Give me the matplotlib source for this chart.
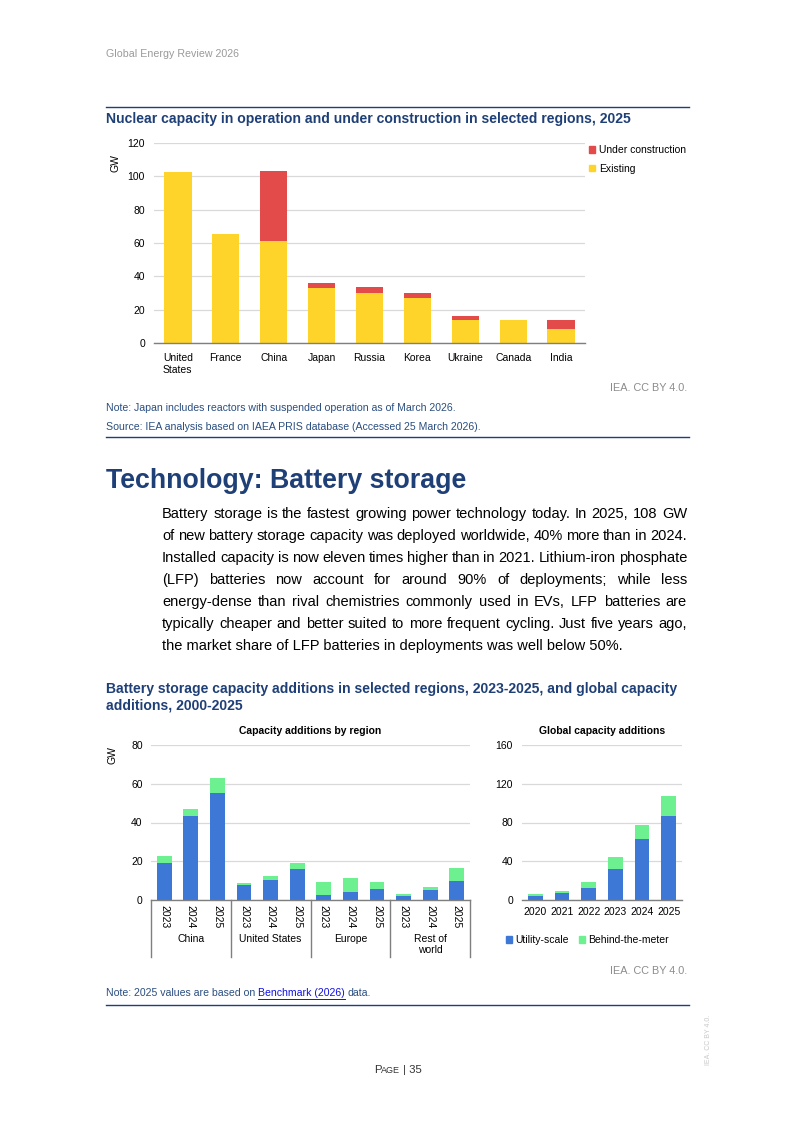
import matplotlib
matplotlib.use('Agg')
import matplotlib.pyplot as plt
from matplotlib.patches import Patch
from matplotlib.lines import Line2D
from matplotlib.transforms import blended_transform_factory
import numpy as np

plt.rcParams['font.family'] = ['Liberation Sans', 'DejaVu Sans']

# ---------------- data ----------------
nuc_regions = ['United\nStates', 'France', 'China', 'Japan', 'Russia', 'Korea', 'Ukraine', 'Canada', 'India']
nuc_existing = [102.5, 65.5, 61.0, 33.0, 30.0, 27.0, 14.0, 13.6, 8.4]
nuc_construction = [0.0, 0.0, 42.0, 3.0, 3.6, 3.0, 2.0, 0.0, 5.2]

bat_groups = ['China', 'United States', 'Europe', 'Rest of\nworld']
bat_years = ['2023', '2024', '2025']
bat_utility = [19.2, 43.2, 55.0, 7.8, 10.2, 15.9, 2.4, 4.0, 5.5, 2.0, 5.0, 9.7]
bat_btm = [3.4, 3.8, 8.0, 1.0, 2.1, 3.0, 6.8, 7.4, 3.7, 1.3, 1.6, 6.6]

glob_years = ['2020', '2021', '2022', '2023', '2024', '2025']
glob_utility = [3.8, 6.9, 12.0, 32.3, 63.3, 86.7]
glob_btm = [2.7, 2.7, 6.3, 12.1, 14.1, 20.9]

paragraph = [
    "Battery storage is the fastest growing power technology today. In 2025, 108 GW",
    "of new battery storage capacity was deployed worldwide, 40% more than in 2024.",
    "Installed capacity is now eleven times higher than in 2021. Lithium-iron phosphate",
    "(LFP) batteries now account for around 90% of deployments; while less",
    "energy-dense than rival chemistries commonly used in EVs, LFP batteries are",
    "typically cheaper and better suited to more frequent cycling. Just five years ago,",
    "the market share of LFP batteries in deployments was well below 50%.",
]

# ---------------- style ----------------
YELLOW = '#FFD42A'
RED = '#E34B4B'
BLUE = '#3D78D6'
GREEN = '#6CF090'
NAVY = '#1F3F77'
NOTE = '#2A4E80'
GRID = '#D9D9D9'
BASE = '#7F7F7F'
GREY_TXT = '#8C8C8C'
TFS = 7.5

W, H = 793, 1121
fig = plt.figure(figsize=(W / 100, H / 100), dpi=100)
renderer = fig.canvas.get_renderer()


def fx(px):
    return px / W


def fy(py):
    return 1 - py / H


def rect(l, t, r, b):
    return [fx(l), fy(b), (r - l) / W, (b - t) / H]


def hline(y, x0=106, x1=689, color=NAVY, lw=1.0):
    fig.add_artist(Line2D([fx(x0), fx(x1)], [fy(y), fy(y)], color=color, lw=lw,
                          transform=fig.transFigure))


def twidth(s, **kw):
    t = fig.text(0, 0, s, **kw)
    w = t.get_window_extent(renderer).width
    t.remove()
    return w


def style_axes(ax, ymax, step, pad):
    ax.set_ylim(0, ymax)
    ax.set_yticks(np.arange(0, ymax + 0.1, step))
    for s in ['top', 'right', 'left']:
        ax.spines[s].set_visible(False)
    ax.spines['bottom'].set_color(BASE)
    ax.spines['bottom'].set_linewidth(1.0)
    ax.grid(axis='y', color=GRID, lw=0.9)
    ax.set_axisbelow(True)
    ax.tick_params(axis='y', length=0, labelsize=TFS, pad=pad)
    ax.tick_params(axis='x', length=0, labelsize=TFS)


def place_ylabel(ax, px, py):
    ax.set_ylabel('GW', fontsize=TFS, va='center')
    ax.yaxis.set_label_coords(fx(px), fy(py), transform=fig.transFigure)


# ---------------- page header ----------------
fig.text(fx(106), fy(54), 'Global Energy Review 2026', fontsize=7.7, color='#9A9A9A', va='center')
hline(107)

fig.text(fx(106), fy(119), 'Nuclear capacity in operation and under construction in selected regions, 2025',
         fontsize=10.1, fontweight='bold', color=NAVY, va='center')

# ---------------- nuclear chart ----------------
ax1 = fig.add_axes(rect(154, 143, 585, 343))
x = np.arange(len(nuc_regions))
ax1.bar(x, nuc_existing, width=0.57, color=YELLOW, label='Existing')
ax1.bar(x, nuc_construction, bottom=nuc_existing, width=0.57, color=RED, label='Under construction')
ax1.set_xlim(-0.5, len(nuc_regions) - 0.5)
style_axes(ax1, 120, 20, 6.5)
ax1.set_xticks(x)
ax1.set_xticklabels(nuc_regions, fontsize=TFS, linespacing=1.25, va='top')
ax1.tick_params(axis='x', pad=7.5)
for lbl in ax1.get_xticklabels():
    lbl.set_multialignment('left')
place_ylabel(ax1, 115, 163)
h = [Patch(color=RED), Patch(color=YELLOW)]
ax1.legend(h, ['Under construction', 'Existing'], loc='upper left', frameon=False,
           bbox_to_anchor=(fx(589), fy(145)), bbox_transform=fig.transFigure,
           fontsize=TFS, handlelength=0.6, handleheight=0.6, handletextpad=0.4,
           labelspacing=0.85, borderpad=0.0, borderaxespad=0.0)

fig.text(fx(687), fy(388), 'IEA. CC BY 4.0.', fontsize=7.8, color=GREY_TXT, ha='right', va='center')
fig.text(fx(106), fy(408), 'Note: Japan includes reactors with suspended operation as of March 2026.',
         fontsize=7.6, color=NOTE, va='center')
fig.text(fx(106), fy(427), 'Source: IEA analysis based on IAEA PRIS database (Accessed 25 March 2026).',
         fontsize=7.6, color=NOTE, va='center')
hline(437)

# ---------------- heading and paragraph ----------------
fig.text(fx(106), fy(481), 'Technology: Battery storage', fontsize=19.3, fontweight='bold',
         color=NAVY, va='center')

PFS = 10.5
left, right = 162, 687
for i, line in enumerate(paragraph):
    yb = 518 + 22 * i
    words = line.split(' ')
    if i == len(paragraph) - 1:
        fig.text(fx(left), fy(yb), line, fontsize=PFS, color='black', va='baseline')
        continue
    widths = [twidth(wd, fontsize=PFS) for wd in words]
    gap = (right - left - sum(widths)) / (len(words) - 1)
    cx = left
    for wd, ww in zip(words, widths):
        fig.text(fx(cx), fy(yb), wd, fontsize=PFS, color='black', va='baseline')
        cx += ww + gap

# ---------------- battery title ----------------
fig.text(fx(106), fy(689), 'Battery storage capacity additions in selected regions, 2023-2025, and global capacity',
         fontsize=10.1, fontweight='bold', color=NAVY, va='center')
fig.text(fx(106), fy(705), 'additions, 2000-2025', fontsize=10.1, fontweight='bold', color=NAVY, va='center')

# ---------------- battery by region ----------------
ax2 = fig.add_axes(rect(151, 745, 470, 900))
xb = np.arange(len(bat_utility))
ax2.bar(xb, bat_utility, width=0.56, color=BLUE, label='Utility-scale')
ax2.bar(xb, bat_btm, bottom=bat_utility, width=0.56, color=GREEN, label='Behind-the-meter')
ax2.set_xlim(-0.5, len(bat_utility) - 0.5)
style_axes(ax2, 80, 20, 6.0)
ax2.set_xticks(xb)
ax2.set_xticklabels(bat_years * len(bat_groups), rotation=270, fontsize=TFS)
ax2.tick_params(axis='x', pad=3.5)
ax2.set_title('Capacity additions by region', fontsize=TFS, fontweight='bold', pad=8)
place_ylabel(ax2, 113, 755)
tr = blended_transform_factory(ax2.transData, ax2.transAxes)
for sep in np.arange(-0.5, len(bat_utility), len(bat_years)):
    ax2.plot([sep, sep], [0, -57 / 155], color=BASE, lw=1.0, transform=tr, clip_on=False)
for gi, g in enumerate(bat_groups):
    ax2.text(gi * 3 + 1, -34 / 155, g, transform=tr, ha='center', va='top', fontsize=TFS,
             linespacing=1.15)

# ---------------- global ----------------
ax3 = fig.add_axes(rect(522, 745, 682, 900))
xg = np.arange(len(glob_years))
ax3.bar(xg, glob_utility, width=0.56, color=BLUE, label='Utility-scale')
ax3.bar(xg, glob_btm, bottom=glob_utility, width=0.56, color=GREEN, label='Behind-the-meter')
ax3.set_xlim(-0.5, len(glob_years) - 0.5)
style_axes(ax3, 160, 40, 6.5)
ax3.set_xticks(xg)
ax3.set_xticklabels(glob_years, fontsize=TFS)
ax3.tick_params(axis='x', pad=5)
ax3.set_title('Global capacity additions', fontsize=TFS, fontweight='bold', pad=8)
ax3.legend([Patch(color=BLUE), Patch(color=GREEN)], ['Utility-scale', 'Behind-the-meter'],
           loc='center left', frameon=False, ncol=2,
           bbox_to_anchor=(fx(506), fy(940)), bbox_transform=fig.transFigure,
           fontsize=TFS, handlelength=0.6, handleheight=0.6, handletextpad=0.3,
           columnspacing=0.95, borderpad=0.0, borderaxespad=0.0)

fig.text(fx(687), fy(971), 'IEA. CC BY 4.0.', fontsize=7.8, color=GREY_TXT, ha='right', va='center')

# note with link
nfs = 7.6
pre = 'Note: 2025 values are based on'
link = 'Benchmark (2026)'
sp = twidth('a a', fontsize=nfs) - twidth('aa', fontsize=nfs)
w_pre = twidth(pre, fontsize=nfs)
w_link = twidth(link, fontsize=nfs)
fig.text(fx(106), fy(993), pre, fontsize=nfs, color=NOTE, va='center')
lx = 106 + w_pre + sp
fig.text(fx(lx), fy(993), link, fontsize=nfs, color='#1010E0', va='center')
fig.add_artist(Line2D([fx(lx), fx(lx + w_link)], [fy(998.5), fy(998.5)], color='#1010E0', lw=0.7,
                      transform=fig.transFigure))
fig.text(fx(lx + w_link + sp), fy(993), 'data.', fontsize=nfs, color=NOTE, va='center')
hline(1005)

# ---------------- footer ----------------
parts = [('P', 8.2), ('AGE', 6.5), (' | 35', 8.2)]
total = sum(twidth(s, fontsize=f) for s, f in parts)
cx = 398 - total / 2
for s, f in parts:
    fig.text(fx(cx), fy(1073), s, fontsize=f, color='#333333', va='baseline')
    cx += twidth(s, fontsize=f)

fig.text(fx(708), fy(1040), 'IEA. CC BY 4.0.', fontsize=5, color='#C8C8C8', rotation=90,
         ha='center', va='center')

fig.savefig('out.png', dpi=100)
